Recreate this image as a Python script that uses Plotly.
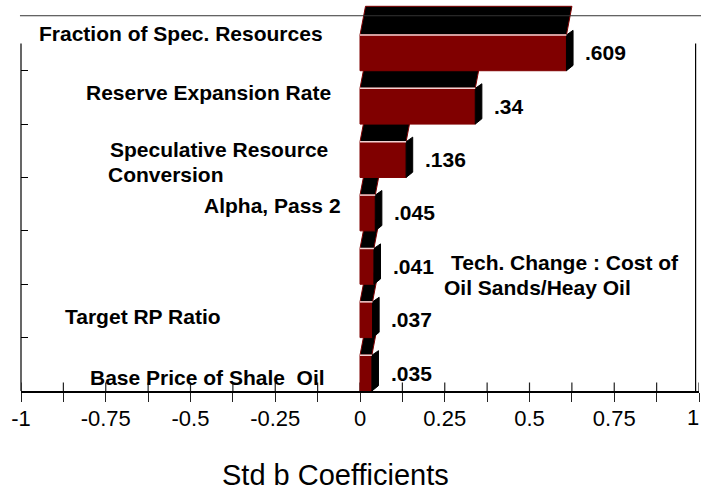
import plotly.graph_objects as go

# ---------------- data ----------------
categories = [
    "Fraction of Spec. Resources",
    "Reserve Expansion Rate",
    "Speculative Resource\nConversion",
    "Alpha, Pass 2",
    "Tech. Change : Cost of\nOil Sands/Heay Oil",
    "Target RP Ratio",
    "Base Price of Shale\u00a0 Oil",
]
values = [0.609, 0.34, 0.136, 0.045, 0.041, 0.037, 0.035]
value_labels = [".609", ".34", ".136", ".045", ".041", ".037", ".035"]
tick_values = [-1, -0.75, -0.5, -0.25, 0, 0.25, 0.5, 0.75, 1]
tick_labels = ["-1", "-0.75", "-0.5", "-0.25", "0", "0.25", "0.5", "0.75", "1"]
all_tick_values = [-1, -0.875, -0.75, -0.625, -0.5, -0.375, -0.25, -0.125, 0,
                   0.125, 0.25, 0.375, 0.5, 0.625, 0.75, 0.875, 1]
x_title = "Std b Coefficients"

# ---------------- layout / style ----------------
FONT = "Liberation Sans, Arial, Helvetica, sans-serif"
FACE = "#800000"
N = len(categories)
Y_MAX = 7.25
PLOT_H = 491 - 4 - 100
FACE_H = 0.67          # fraction of each band taken by bar face
TOP_DEPTH = 0.537      # 3-D top depth (y units)
TOP_DX = 0.0162        # 3-D top shift (x units)
SIDE_DX = 0.0195
SIDE_TOP = 0.086
SIDE_BOT = 0.10
LABEL_SIZE = 21
TICK_FONT = 22
INNER_TICK = 8.5 / PLOT_H * Y_MAX

# label placement per line: (x, y-offset within band, anchor)
label_place = [
    [(-0.103, 0.70, "right")],
    [(-0.080, 0.59, "right")],
    [(-0.0885, 0.52, "right"), (-0.749, 0.06, "left")],
    [(-0.050, 0.48, "right")],
    [(0.263, 0.41, "left"), (0.242, -0.07, "left")],
    [(-0.876, 0.39, "left")],
    [(-0.802, 0.262, "left")],
]
VALUE_DX = 0.05

tx, ty, fx, fy, sx, sy, hx, hy = [], [], [], [], [], [], [], []
for i, v in enumerate(values):
    b = N - 1 - i
    t = b + FACE_H
    tx += [0, v, v + TOP_DX, TOP_DX, 0, None]
    ty += [t, t, t + TOP_DEPTH, t + TOP_DEPTH, t, None]
    fx += [0, v, v, 0, 0, None]
    fy += [b, b, t, t, b, None]
    sx += [v, v + SIDE_DX, v + SIDE_DX, v, v, None]
    sy += [b, b + SIDE_BOT, t + SIDE_TOP, t, b, None]
    hx += [0, v, None]
    hy += [t, t, None]

# inside half of the crossing x-axis ticks
kx, ky = [], []
for tv in all_tick_values:
    kx += [tv, tv, None]
    ky += [0, INNER_TICK, None]

fig = go.Figure()
fig.add_trace(go.Scatter(x=kx, y=ky, mode="lines", hoverinfo="skip", showlegend=False,
                         line=dict(color="#222222", width=1.2), cliponaxis=False))
common = dict(mode="lines", fill="toself", hoverinfo="skip", showlegend=False)
fig.add_trace(go.Scatter(x=tx, y=ty, fillcolor="black",
                         line=dict(color=FACE, width=1), **common))
fig.add_trace(go.Scatter(x=fx, y=fy, fillcolor=FACE,
                         line=dict(color=FACE, width=1), **common))
fig.add_trace(go.Scatter(x=sx, y=sy, fillcolor="black",
                         line=dict(color="black", width=1), **common))
fig.add_trace(go.Scatter(x=hx, y=hy, mode="lines", hoverinfo="skip", showlegend=False,
                         line=dict(color="#f3d2d2", width=1.5)))

annotations = []
for i, cat in enumerate(categories):
    b = N - 1 - i
    for line, (x, dy, anchor) in zip(cat.split("\n"), label_place[i]):
        annotations.append(dict(x=x, y=b + dy, xref="x", yref="y", text=line,
                                showarrow=False, xanchor=anchor, yanchor="middle",
                                font=dict(family=FONT, size=LABEL_SIZE, color="black",
                                          weight="bold")))
    annotations.append(dict(x=values[i] + VALUE_DX, y=b + FACE_H / 2, xref="x", yref="y",
                            text=value_labels[i], showarrow=False, xanchor="left",
                            yanchor="middle",
                            font=dict(family=FONT, size=LABEL_SIZE, color="black",
                                      weight="bold")))
annotations.append(dict(x=0.4646, y=-0.2158, xref="paper", yref="paper", text=x_title,
                        showarrow=False, xanchor="center", yanchor="middle",
                        font=dict(family=FONT, size=29, color="black")))
# last tick label kept inside the page edge
annotations.append(dict(x=1.0035, y=-26.5 / PLOT_H, xref="paper", yref="paper",
                        text=tick_labels[-1], showarrow=False, xanchor="right",
                        yanchor="middle",
                        font=dict(family=FONT, size=TICK_FONT, color="black")))

shapes = [
    dict(type="line", xref="paper", yref="paper", x0=-0.0015, x1=1.003,
         y0=7.03 / Y_MAX, y1=7.03 / Y_MAX, line=dict(color="#333333", width=1)),
    dict(type="line", xref="paper", yref="paper", x0=0, x1=0,
         y0=0, y1=6.51 / Y_MAX, line=dict(color="black", width=1.2)),
    dict(type="line", xref="paper", yref="paper", x0=0.995, x1=0.995,
         y0=0, y1=6.51 / Y_MAX, line=dict(color="black", width=1.2)),
]

fig.update_layout(
    width=701, height=491, autosize=False,
    margin=dict(l=21, r=2, t=4, b=100),
    paper_bgcolor="white", plot_bgcolor="white",
    font=dict(family=FONT, color="black"),
    annotations=annotations, shapes=shapes,
    xaxis=dict(range=[-1, 1], tickvals=tick_values[:-1], ticktext=tick_labels[:-1],
               ticks="outside", ticklen=9, tickcolor="#222222", tickwidth=1,
               minor=dict(tickvals=all_tick_values, ticks="outside", ticklen=9,
                          tickcolor="#222222", tickwidth=1),
               showline=True, linecolor="black", linewidth=1.5,
               showgrid=False, zeroline=False, automargin=False,
               ticklabelstandoff=-2,
               tickfont=dict(family=FONT, size=TICK_FONT, color="black")),
    yaxis=dict(range=[0, Y_MAX], tickvals=[1, 2, 3, 4, 5, 6], ticks="inside",
               ticklen=7, tickcolor="black", tickwidth=1, showticklabels=False,
               showline=False, showgrid=False, zeroline=False, automargin=False),
)

fig.write_html(
    "out.html",
    config={"displayModeBar": False, "staticPlot": True},
    post_script="document.body.style.margin='0px';document.body.style.overflow='hidden';",
)
